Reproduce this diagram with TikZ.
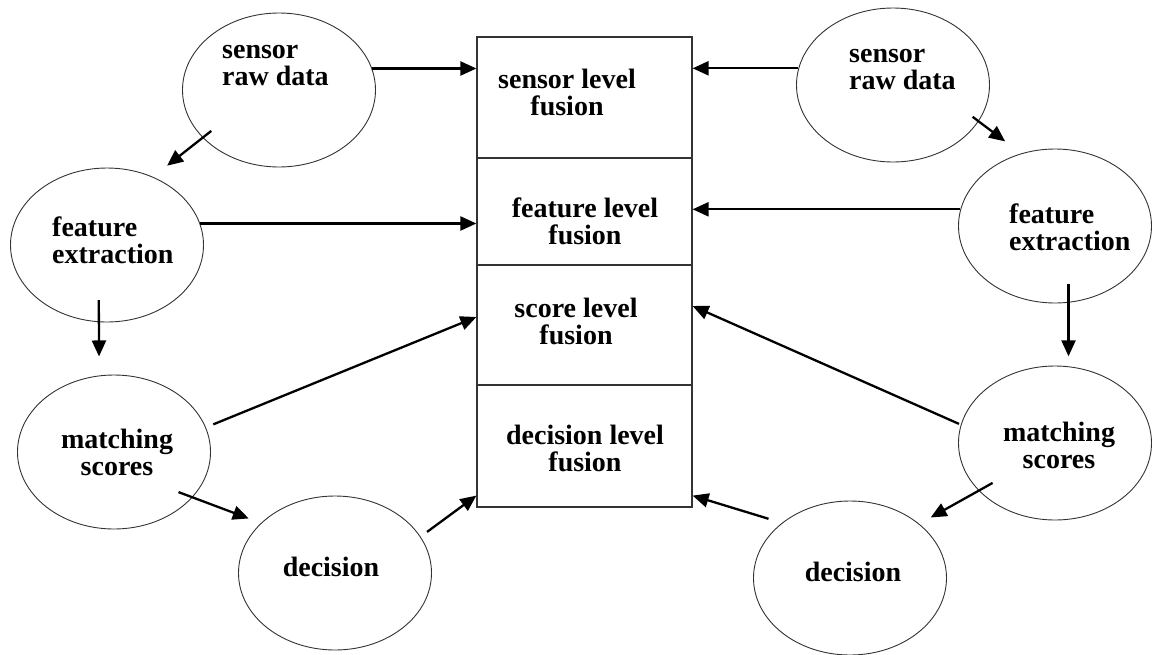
\documentclass[tikz,border=0pt]{standalone}
\usepackage{fontspec}
\setmainfont{Liberation Serif}
\usetikzlibrary{shapes.geometric,arrows.meta}
\begin{document}
\begin{tikzpicture}[
        x=1pt,y=-1pt,
        circ/.style={draw=black!80,ellipse,line width=0.9pt,minimum width=193pt,minimum height=154pt,inner sep=0pt},
        lvl/.style={draw=black!80,rectangle,line width=1.2pt,minimum width=215pt,inner sep=0pt},
        txt/.style={font=\fontsize{28}{27}\selectfont\bfseries,inner sep=0pt,align=center},
        ltxt/.style={txt,align=left,anchor=west},
        arr/.style={-{Triangle[length=16pt,width=14pt]},line width=2.3pt},
        ]
    \useasboundingbox (0,0) rectangle (1152,654);
    % fusion levels
    \node [lvl,minimum height=121pt] (sfus) at (584.5,97.5) {};
    \node [lvl,minimum height=107pt] (ffus) at (584.5,211.5) {};
    \node [lvl,minimum height=120pt] (cfus) at (584.5,325) {};
    \node [lvl,minimum height=122pt] (dfus) at (584.5,446) {};
    \node [txt] (sfus-t) at (567,92) {sensor level\\fusion};
    \node [txt] (ffus-t) at (585,221) {feature level\\fusion};
    \node [txt] (cfus-t) at (576,321) {score level\\fusion};
    \node [txt] (dfus-t) at (585,448) {decision level\\fusion};
    % left side
    \node [circ] (lsen) at (279,90) {};
    \node [ltxt] (lsen-t) at (222,66) {sensor\\raw data};
    \node [circ] (lfeat) at (107,245) {};
    \node [ltxt] (lfeat-t) at (52,240) {feature\\extraction};
    \node [circ] (lmatch) at (114,452) {};
    \node [txt] (lmatch-t) at (117,452) {matching\\scores};
    \node [circ] (ldec) at (335,573) {};
    \node [txt] (ldec-t) at (331,567) {decision};
    % right side
    \node [circ] (rsen) at (893,85) {};
    \node [ltxt] (rsen-t) at (849,70) {sensor\\raw data};
    \node [circ] (rfeat) at (1055,226) {};
    \node [ltxt] (rfeat-t) at (1009,227) {feature\\extraction};
    \node [circ] (rmatch) at (1055,443) {};
    \node [txt] (rmatch-t) at (1059,445) {matching\\scores};
    \node [circ] (rdec) at (850,578) {};
    \node [txt] (rdec-t) at (853,572) {decision};
    % arrows, left
    \draw [arr] (lsen.13) -- (lsen.13 -| sfus.west);
    \draw [arr,shorten <=-11pt,shorten >=18pt] (lsen.212) -- (lfeat.56);
    \draw [arr] (lfeat.13.5) -- (lfeat.13.5 -| ffus.west);
    \draw [arr,shorten <=-22pt,shorten >=19pt] (lfeat.264) -- (lmatch.101);
    \draw [arr,shorten <=8pt] (lmatch.15.5) -- ([yshift=8pt]cfus.west);
    \draw [arr,shorten <=-15pt,shorten >=13pt] (lmatch.-30.2) -- (ldec.146.2);
    \draw [arr,shorten <=8pt] (ldec.23.3) -- ([yshift=12pt]dfus.south west);
    % arrows, right
    \draw [arr] (rsen.170.4) -- (rsen.170.4 -| sfus.east);
    \draw [arr,shorten <=-7.5pt,shorten >=20pt] (rsen.-23.3) -- (rfeat.115.4);
    \draw [arr] (rfeat.170.4) -- (rfeat.170.4 -| ffus.east);
    \draw [arr,shorten <=-19pt,shorten >=10pt] (rfeat.-80.3) -- (rmatch.80.3);
    \draw [arr,shorten <=2pt] (rmatch.169.6) -- ([yshift=19pt]cfus.east);
    \draw [arr,shorten <=-16pt,shorten >=13pt] (rmatch.212.8) -- (rdec.38.1);
    \draw [arr,shorten <=14pt] (rdec.141) -- ([yshift=12pt]dfus.south east);
\end{tikzpicture}
\end{document}
